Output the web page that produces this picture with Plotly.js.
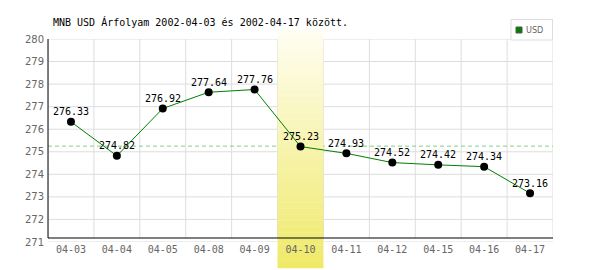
<!DOCTYPE html>
<html>
<head>
<meta charset="utf-8">
<script src="https://cdn.plot.ly/plotly-3.0.1.min.js"></script>
<style>html,body{margin:0;padding:0;background:#fff}#chart{width:600px;height:270px}</style>
</head>
<body>
<div id="chart"></div>
<script>
var dates = ["04-03","04-04","04-05","04-08","04-09","04-10","04-11","04-12","04-15","04-16","04-17"];
var rates = [276.33,274.82,276.92,277.64,277.76,275.23,274.93,274.52,274.42,274.34,273.16];
var average = 275.25;
var highlightDate = "04-10";
var seriesName = "USD";
var titleText = "MNB USD Árfolyam 2002-04-03 és 2002-04-17 között.";
var yTicks = [271,272,273,274,275,276,277,278,279,280];

var W = 600, H = 270, mL = 48, mR = 47, mT = 39, mB = 28;
var plotH = H - mT - mB, plotW = W - mL - mR;
function py(px){ return (H - mB - px) / plotH; }
function pxX(px){ return (px - mL) / plotW; }

var shapes = [];
var grid = {color:'#dddddd', width:1};
// grid lines (drawn as shapes so the highlight can sit above them)
yTicks.forEach(function(v){
  shapes.push({type:'line', xref:'paper', yref:'y', x0:0, x1:1, y0:v, y1:v, line:grid, layer:'below'});
});
for (var b = 0; b <= dates.length; b++) {
  shapes.push({type:'line', xref:'x', yref:'paper', x0:b - 0.5, x1:b - 0.5, y0:py(238), y1:1, line:grid, layer:'below'});
}
// average dashed line
shapes.push({type:'line', xref:'paper', yref:'y', x0:0, x1:1, y0:average, y1:average,
  line:{color:'#88cc88', width:1, dash:'4px,3px'}, layer:'below'});
// yellow gradient highlight
var hi = dates.indexOf(highlightDate);
var hlTop = 30, hlBot = 268, N = 40;
var c0 = [255,254,242], c1 = [239,233,104];
for (var i = 0; i < N; i++) {
  var t = (i + 0.5) / N;
  var c = c0.map(function(v, k){ return Math.round(v + (c1[k] - v) * t); });
  var ya = hlTop + (hlBot - hlTop) * i / N, yb = hlTop + (hlBot - hlTop) * (i + 1) / N;
  shapes.push({type:'rect', xref:'x', yref:'paper', x0: hi - 0.5, x1: hi + 0.5,
    y0: py(yb + 0.3), y1: py(ya), fillcolor: 'rgb(' + c.join(',') + ')', line:{width:0}, layer:'below'});
}
// axis lines
shapes.push({type:'line', xref:'paper', yref:'paper', x0:0, x1:0, y0:py(238), y1:1, line:{color:'#000', width:1}});
shapes.push({type:'line', xref:'paper', yref:'paper', x0:0, x1:1, y0:py(238), y1:py(238), line:{color:'#000', width:1}});
// legend box
shapes.push({type:'rect', xref:'paper', yref:'paper', x0:pxX(511), x1:pxX(552.5), y0:py(40), y1:py(19.5),
  fillcolor:'#fff', line:{color:'#dddddd', width:1}});
shapes.push({type:'rect', xref:'paper', yref:'paper', x0:pxX(516), x1:pxX(522), y0:py(33), y1:py(27),
  fillcolor:'#008000', line:{color:'#555', width:1}});

var trace = {
  x: dates, y: rates, type:'scatter', mode:'lines+markers',
  line:{color:'#008000', width:1},
  marker:{color:'#000', size:8},
  cliponaxis:false, showlegend:false, name: seriesName
};

var annotations = dates.map(function(d, k){
  return {x:d, y:rates[k], xref:'x', yref:'y', text:rates[k].toFixed(2), showarrow:false,
    yanchor:'middle', xanchor:'center', yshift:10,
    font:{family:'DejaVu Sans Mono', size:10, color:'#000'}};
});
annotations.push({xref:'paper', yref:'paper', x:pxX(523.5), y:py(30), xanchor:'left', yanchor:'middle',
  text: seriesName, showarrow:false, font:{family:'DejaVu Sans Condensed', size:9, color:'#666'}});

var layout = {
  width: W, height: H,
  margin:{l:mL, r:mR, t:mT, b:mB, pad:0},
  paper_bgcolor:'#fff', plot_bgcolor:'rgba(0,0,0,0)',
  showlegend:false,
  title:{text: titleText, x: 53 / W, xref:'container', xanchor:'left', y: 1 - 22 / H, yref:'container', yanchor:'middle',
    font:{family:'DejaVu Sans Mono', size:10, color:'#000'}},
  xaxis:{type:'category', range:[-0.5, dates.length - 0.5], tickson:'boundaries', showgrid:false,
    showline:false, zeroline:false, ticks:'', fixedrange:true,
    tickfont:{family:'DejaVu Sans Mono', size:10, color:'#666'}},
  yaxis:{range:[271, 280], tickvals:yTicks, ticktext:yTicks.map(String), showgrid:false,
    showline:false, zeroline:false, ticks:'', ticklabelstandoff:3,
    tickfont:{family:'DejaVu Sans', size:10, color:'#666'}},
  shapes: shapes,
  annotations: annotations
};

Plotly.newPlot('chart', [trace], layout, {displayModeBar:false, staticPlot:true});
</script>
</body>
</html>
